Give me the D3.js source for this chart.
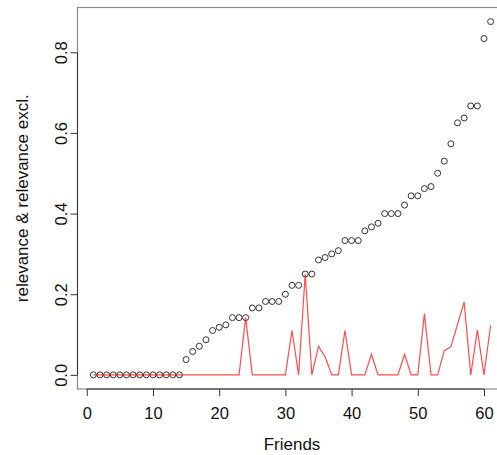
<!DOCTYPE html>
<html>
<head>
<meta charset="utf-8">
<script src="https://cdn.jsdelivr.net/npm/d3@7"></script>
<style>
  body { margin: 0; background: #fff; }
  svg { display: block; font-family: "Liberation Sans", Arial, Helvetica, sans-serif; }
</style>
</head>
<body>
<svg id="chart" width="497" height="455"></svg>
<script>
// friends count on x
var friends = d3.range(1, 62);

// relevance (open circles)
var relevance = [
  0, 0, 0, 0, 0, 0, 0, 0, 0, 0, 0, 0, 0, 0,
  0.038, 0.058, 0.071, 0.087, 0.110, 0.118, 0.124, 0.142, 0.142, 0.142,
  0.166, 0.166, 0.182, 0.182, 0.182, 0.200, 0.222, 0.222, 0.250, 0.250,
  0.285, 0.291, 0.300, 0.308, 0.333, 0.333, 0.333, 0.357, 0.367, 0.376,
  0.400, 0.400, 0.400, 0.421, 0.444, 0.444, 0.462, 0.467, 0.500, 0.530,
  0.573, 0.625, 0.637, 0.667, 0.667, 0.834, 0.876
];

// relevance excl. (red line)
var relevanceExcl = [
  0, 0, 0, 0, 0, 0, 0, 0, 0, 0, 0, 0, 0, 0, 0, 0, 0, 0, 0, 0, 0, 0, 0,
  0.142, 0, 0, 0, 0, 0, 0, 0.110, 0, 0.250, 0, 0.071, 0.045, 0, 0,
  0.110, 0, 0, 0, 0.051, 0, 0, 0, 0, 0.051, 0, 0, 0.152, 0, 0,
  0.060, 0.070, 0.125, 0.181, 0, 0.111, 0, 0.123
];

var xTicks = [0, 10, 20, 30, 40, 50, 60];
var yTicks = [0, 0.2, 0.4, 0.6, 0.8];

var svg = d3.select("#chart");

var plot = { left: 77.5, right: 506.5, top: 7.5, bottom: 389 };

// R style 4% padding on data range
var xExt = d3.extent(friends);
var xPad = (xExt[1] - xExt[0]) * 0.04;
var yMax = d3.max(relevance.concat(relevanceExcl));
var yPad = yMax * 0.04;

var xScale = d3.scaleLinear()
  .domain([xExt[0] - xPad, xExt[1] + xPad])
  .range([plot.left, plot.right]);

var yScale = d3.scaleLinear()
  .domain([0 - yPad, yMax + yPad])
  .range([plot.bottom, plot.top]);

// box
svg.append("rect")
  .attr("x", plot.left)
  .attr("y", plot.top)
  .attr("width", plot.right - plot.left)
  .attr("height", plot.bottom - plot.top)
  .attr("fill", "none")
  .attr("stroke", "#8a8a8a")
  .attr("stroke-width", 1.2);

// x axis
var xAxis = d3.axisBottom(xScale).tickValues(xTicks).tickSize(7).tickFormat(d3.format("d"));
var gx = svg.append("g")
  .attr("transform", "translate(0," + plot.bottom + ")")
  .call(xAxis);
gx.select(".domain").remove();
gx.append("line")
  .attr("x1", xScale(xTicks[0]))
  .attr("x2", xScale(xTicks[xTicks.length - 1]))
  .attr("stroke", "#333");
gx.selectAll(".tick line").attr("stroke", "#333");
gx.selectAll("text")
  .attr("y", 24)
  .attr("dy", "0.35em")
  .attr("fill", "#111")
  .style("font-size", "16.5px");

// y axis
var yAxis = d3.axisLeft(yScale).tickValues(yTicks).tickSize(7).tickFormat(d3.format(".1f"));
var gy = svg.append("g")
  .attr("transform", "translate(" + plot.left + ",0)")
  .call(yAxis);
gy.select(".domain").remove();
gy.append("line")
  .attr("y1", yScale(yTicks[0]))
  .attr("y2", yScale(yTicks[yTicks.length - 1]))
  .attr("stroke", "#333");
gy.selectAll(".tick line").attr("stroke", "#333");
gy.selectAll("text")
  .attr("x", 0)
  .attr("y", 0)
  .attr("dy", "0.35em")
  .attr("text-anchor", "middle")
  .attr("transform", "translate(-16,0) rotate(-90)")
  .attr("fill", "#111")
  .style("font-size", "16.5px");

// axis titles
svg.append("text")
  .attr("x", (plot.left + plot.right) / 2)
  .attr("y", 450)
  .attr("text-anchor", "middle")
  .attr("fill", "#111")
  .style("font-size", "17px")
  .text("Friends");

svg.append("text")
  .attr("transform", "translate(22," + (plot.top + plot.bottom) / 2 + ") rotate(-90)")
  .attr("text-anchor", "middle")
  .attr("dy", "0.35em")
  .attr("fill", "#111")
  .style("font-size", "17px")
  .text("relevance & relevance excl.");

// points
svg.append("g")
  .selectAll("circle")
  .data(friends)
  .enter()
  .append("circle")
  .attr("cx", function (d) { return xScale(d); })
  .attr("cy", function (d, i) { return yScale(relevance[i]); })
  .attr("r", 3)
  .attr("fill", "none")
  .attr("stroke", "#333")
  .attr("stroke-width", 1);

// red line
var line = d3.line()
  .x(function (d) { return xScale(d); })
  .y(function (d, i) { return yScale(relevanceExcl[i]); });

svg.append("path")
  .datum(friends)
  .attr("d", line)
  .attr("fill", "none")
  .attr("stroke", "rgba(255,0,0,0.7)")
  .attr("stroke-width", 1.2);
</script>
</body>
</html>
